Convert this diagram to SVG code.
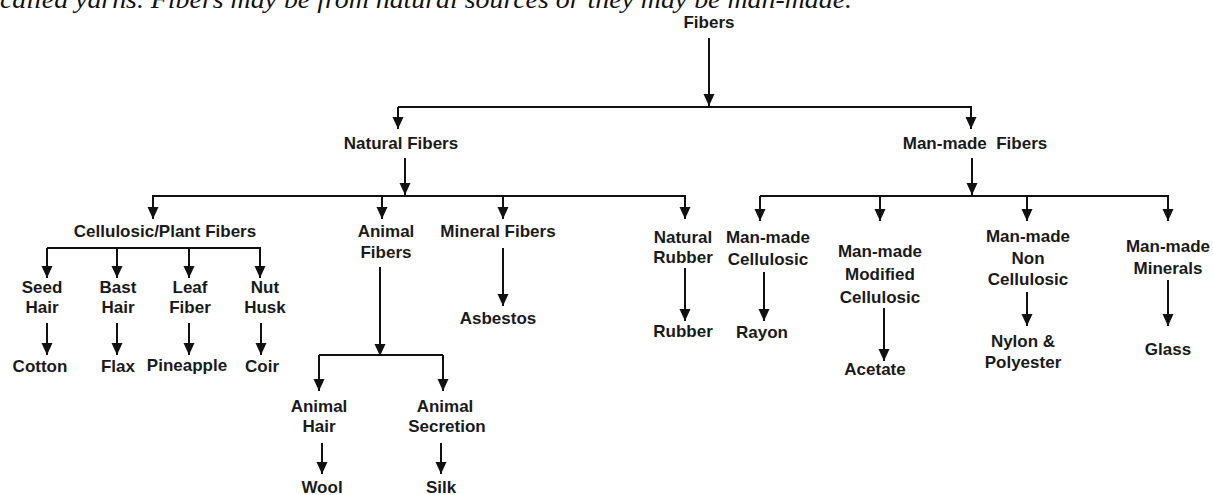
<svg xmlns="http://www.w3.org/2000/svg" width="1213" height="495" viewBox="0 0 1213 495">
<defs>
<marker id="ah" markerUnits="userSpaceOnUse" markerWidth="12" markerHeight="13" viewBox="0 0 12 13" refX="12" refY="6" orient="auto">
<path d="M0,0.5 L12,6 L0,11.5 Z" fill="#111"/>
</marker>
<style>
.t{font-family:"Liberation Sans",Arial,sans-serif;font-weight:bold;font-size:17px;fill:#1a1a1a;text-anchor:middle}
.c{stroke:#111;stroke-width:2;fill:none}
.a{stroke:#111;stroke-width:2;fill:none;marker-end:url(#ah)}
.p{font-family:"Liberation Serif","Times New Roman",serif;font-style:italic;font-size:26px;fill:#111}
</style>
</defs>
<rect width="1213" height="495" fill="#fff"/>
<text class="p" x="0" y="8" textLength="852" lengthAdjust="spacingAndGlyphs">called yarns. Fibers may be from natural sources or they may be man-made.</text>
<g id="connectors">
<path class="a" d="M709,38 V106"/>
<path class="c" d="M398,107 H972"/>
<path class="a" d="M398,107 V129"/>
<path class="a" d="M971,107 V129"/>
<path class="a" d="M405,158 V195"/>
<path class="c" d="M152,196 H686"/>
<path class="a" d="M153,196 V219"/>
<path class="a" d="M382,196 V219"/>
<path class="a" d="M503,196 V219"/>
<path class="a" d="M685,196 V219"/>
<path class="a" d="M972,158 V195"/>
<path class="c" d="M760,196 H1169"/>
<path class="a" d="M760,196 V221"/>
<path class="a" d="M880,196 V221"/>
<path class="a" d="M1027,196 V221"/>
<path class="a" d="M1168,196 V221"/>
<path class="c" d="M47,248 H261"/>
<path class="a" d="M47,248 V278"/>
<path class="a" d="M117,248 V278"/>
<path class="a" d="M189,248 V278"/>
<path class="a" d="M260,248 V278"/>
<path class="a" d="M47,323 V355"/>
<path class="a" d="M117,323 V355"/>
<path class="a" d="M189,323 V355"/>
<path class="a" d="M261,323 V355"/>
<path class="a" d="M380,267 V356"/>
<path class="c" d="M319,355 H443"/>
<path class="a" d="M319,355 V391"/>
<path class="a" d="M443,355 V391"/>
<path class="a" d="M322,443 V474"/>
<path class="a" d="M441,443 V474"/>
<path class="a" d="M503,248 V306"/>
<path class="a" d="M685,268 V321"/>
<path class="a" d="M764,272 V321"/>
<path class="a" d="M884,308 V361"/>
<path class="a" d="M1027,292 V326"/>
<path class="a" d="M1168,280 V326"/>
</g>
<g id="fibers"><text class="t" x="709" y="28">Fibers</text></g>
<g id="natural"><text class="t" x="401" y="149">Natural Fibers</text></g>
<g id="manmade"><text class="t" x="975" y="149" xml:space="preserve">Man-made  Fibers</text></g>
<g id="cellulosic"><text class="t" x="165" y="237">Cellulosic/Plant Fibers</text></g>
<g id="animal"><text class="t" x="386" y="237">Animal</text><text class="t" x="386" y="258">Fibers</text></g>
<g id="mineral"><text class="t" x="498" y="237">Mineral Fibers</text></g>
<g id="natrubber"><text class="t" x="683" y="243">Natural</text><text class="t" x="683" y="263">Rubber</text></g>
<g id="mmcell"><text class="t" x="768" y="243">Man-made</text><text class="t" x="768" y="265">Cellulosic</text></g>
<g id="mmmod"><text class="t" x="880" y="257">Man-made</text><text class="t" x="880" y="280">Modified</text><text class="t" x="880" y="303">Cellulosic</text></g>
<g id="mmnon"><text class="t" x="1028" y="242">Man-made</text><text class="t" x="1028" y="264">Non</text><text class="t" x="1028" y="285">Cellulosic</text></g>
<g id="mmmin"><text class="t" x="1168" y="252">Man-made</text><text class="t" x="1168" y="274">Minerals</text></g>
<g id="seed"><text class="t" x="42" y="293">Seed</text><text class="t" x="42" y="313">Hair</text></g>
<g id="bast"><text class="t" x="118" y="293">Bast</text><text class="t" x="118" y="313">Hair</text></g>
<g id="leaf"><text class="t" x="190" y="293">Leaf</text><text class="t" x="190" y="313">Fiber</text></g>
<g id="nut"><text class="t" x="265" y="293">Nut</text><text class="t" x="265" y="313">Husk</text></g>
<g id="cotton"><text class="t" x="40" y="372">Cotton</text></g>
<g id="flax"><text class="t" x="118" y="372">Flax</text></g>
<g id="pineapple"><text class="t" x="187" y="371">Pineapple</text></g>
<g id="coir"><text class="t" x="262" y="372">Coir</text></g>
<g id="asbestos"><text class="t" x="498" y="324">Asbestos</text></g>
<g id="rubber"><text class="t" x="683" y="337">Rubber</text></g>
<g id="rayon"><text class="t" x="762" y="338">Rayon</text></g>
<g id="acetate"><text class="t" x="875" y="375">Acetate</text></g>
<g id="nylon"><text class="t" x="1023" y="347">Nylon &amp;</text><text class="t" x="1023" y="368">Polyester</text></g>
<g id="glass"><text class="t" x="1168" y="355">Glass</text></g>
<g id="animalhair"><text class="t" x="319" y="412">Animal</text><text class="t" x="319" y="432">Hair</text></g>
<g id="animalsec"><text class="t" x="445" y="412">Animal</text><text class="t" x="447" y="432">Secretion</text></g>
<g id="wool"><text class="t" x="322" y="493">Wool</text></g>
<g id="silk"><text class="t" x="441" y="493">Silk</text></g>
</svg>
